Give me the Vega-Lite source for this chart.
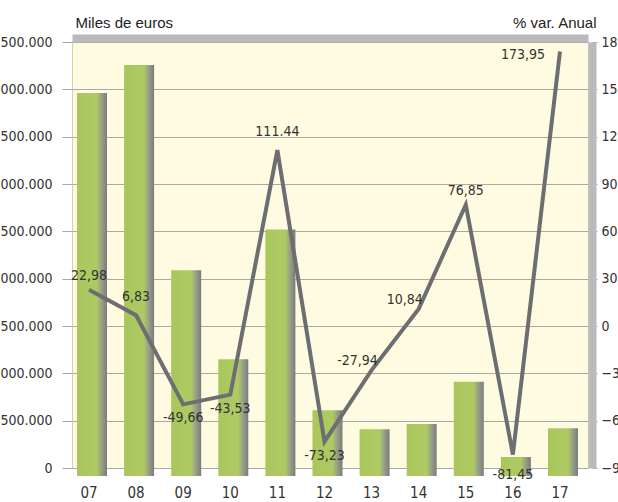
{
  "$schema": "https://vega.github.io/schema/vega-lite/v6.json",
  "width": 516,
  "height": 426,
  "autosize": {"type": "none"},
  "padding": {"left": 72, "top": 42, "right": 30, "bottom": 34},
  "background": "white",
  "config": {
    "locale": {"number": {"decimal": ",", "thousands": ".", "grouping": [3], "currency": ["", " €"]}},
    "view": {"fill": "#fffbe0", "stroke": "#d6d2a8", "strokeWidth": 1},
    "axis": {
      "labelFont": "Liberation Sans Narrow, DejaVu Sans Condensed, sans-serif",
      "labelFontSize": 14,
      "labelColor": "#333333",
      "titleFont": "Liberation Sans, Arial, sans-serif",
      "titleFontSize": 15,
      "titleFontWeight": "normal",
      "titleColor": "#222222"
    },
    "text": {"font": "Liberation Sans Narrow, DejaVu Sans Condensed, sans-serif", "fontSize": 14, "color": "#333333"}
  },
  "data": {
    "values": [
      {"year": "07", "value": 3960000, "pct": 22.98, "label": "22,98"},
      {"year": "08", "value": 4257000, "pct": 6.83, "label": "6,83"},
      {"year": "09", "value": 2090000, "pct": -49.66, "label": "-49,66"},
      {"year": "10", "value": 1150000, "pct": -43.53, "label": "-43,53"},
      {"year": "11", "value": 2520000, "pct": 111.44, "label": "111.44"},
      {"year": "12", "value": 610000, "pct": -73.23, "label": "-73,23"},
      {"year": "13", "value": 410000, "pct": -27.94, "label": "-27,94"},
      {"year": "14", "value": 465000, "pct": 10.84, "label": "10,84"},
      {"year": "15", "value": 910000, "pct": 76.85, "label": "76,85"},
      {"year": "16", "value": 116000, "pct": -81.45, "label": "-81,45"},
      {"year": "17", "value": 420000, "pct": 173.95, "label": "173,95"}
    ]
  },
  "layer": [
    {
      "mark": {
        "type": "bar",
        "width": 30,
        "xOffset": 3,
        "color": {
          "x1": 0, "y1": 0, "x2": 1, "y2": 0,
          "gradient": "linear",
          "stops": [
            {"offset": 0, "color": "#a9c65d"},
            {"offset": 0.66, "color": "#afca63"},
            {"offset": 0.8, "color": "#9aa585"},
            {"offset": 1, "color": "#7b7b7d"}
          ]
        }
      },
      "encoding": {
        "x": {
          "field": "year", "type": "ordinal",
          "scale": {"paddingInner": 0.278, "paddingOuter": 0.117, "align": 0},
          "axis": {"orient": "bottom", "domain": false, "ticks": false, "grid": false, "labelAngle": 0, "labelPadding": 17, "labelFontSize": 15, "title": null}
        },
        "y": {
          "field": "value", "type": "quantitative",
          "scale": {"domain": [0, 4500000], "nice": false, "zero": false},
          "axis": {
            "orient": "left",
            "values": [0, 500000, 1000000, 1500000, 2000000, 2500000, 3000000, 3500000, 4000000, 4500000],
            "format": ",d",
            "domain": false,
            "grid": true, "gridColor": "#a9a9a9", "gridOpacity": 1,
            "tickSize": 10, "tickColor": "#a9a9a9",
            "labelPadding": 10,
            "title": "Miles de euros",
            "titleAngle": 0, "titleAlign": "left", "titleBaseline": "alphabetic",
            "titleX": 3, "titleY": -15
          }
        },
        "y2": {"datum": -85000}
      }
    },
    {
      "encoding": {
        "x": {
          "field": "year", "type": "ordinal",
          "axis": {"orient": "top", "offset": 4, "domain": true, "domainColor": "#b9b9be", "domainWidth": 8, "labels": false, "ticks": false, "grid": false, "title": null}
        },
        "y": {
          "field": "pct", "type": "quantitative",
          "scale": {"domain": [-90, 180], "nice": false, "zero": false},
          "axis": {
            "orient": "right", "offset": 4,
            "values": [-90, -60, -30, 0, 30, 60, 90, 120, 150, 180],
            "domain": true, "domainColor": "#b9b9be", "domainWidth": 8,
            "grid": false,
            "tickSize": 5, "tickColor": "#a9a9a9",
            "labelPadding": 4,
            "title": "% var. Anual",
            "titleAngle": 0, "titleAlign": "right", "titleBaseline": "alphabetic",
            "titleX": 4, "titleY": -15
          }
        }
      },
      "layer": [
        {"mark": {"type": "line", "color": "#6d6e72", "strokeWidth": 4}},
        {
          "transform": [{"filter": {"field": "year", "oneOf": ["07", "15"]}}],
          "mark": {"type": "text", "dy": -14, "baseline": "middle"},
          "encoding": {"text": {"field": "label"}}
        },
        {
          "transform": [{"filter": {"field": "year", "oneOf": ["08", "11"]}}],
          "mark": {"type": "text", "dy": -18, "baseline": "middle"},
          "encoding": {"text": {"field": "label"}}
        },
        {
          "transform": [{"filter": {"field": "year", "oneOf": ["09", "10", "12"]}}],
          "mark": {"type": "text", "dy": 14, "baseline": "middle"},
          "encoding": {"text": {"field": "label"}}
        },
        {
          "transform": [{"filter": {"field": "year", "oneOf": ["16"]}}],
          "mark": {"type": "text", "dy": 20, "baseline": "middle"},
          "encoding": {"text": {"field": "label"}}
        },
        {
          "transform": [{"filter": {"field": "year", "oneOf": ["13", "14"]}}],
          "mark": {"type": "text", "dx": -14, "dy": -9, "baseline": "middle"},
          "encoding": {"text": {"field": "label"}}
        },
        {
          "transform": [{"filter": {"field": "year", "oneOf": ["17"]}}],
          "mark": {"type": "text", "dx": -15, "dy": 3, "align": "right", "baseline": "middle"},
          "encoding": {"text": {"field": "label"}}
        }
      ]
    }
  ],
  "resolve": {"scale": {"y": "independent"}, "axis": {"x": "independent"}}
}
